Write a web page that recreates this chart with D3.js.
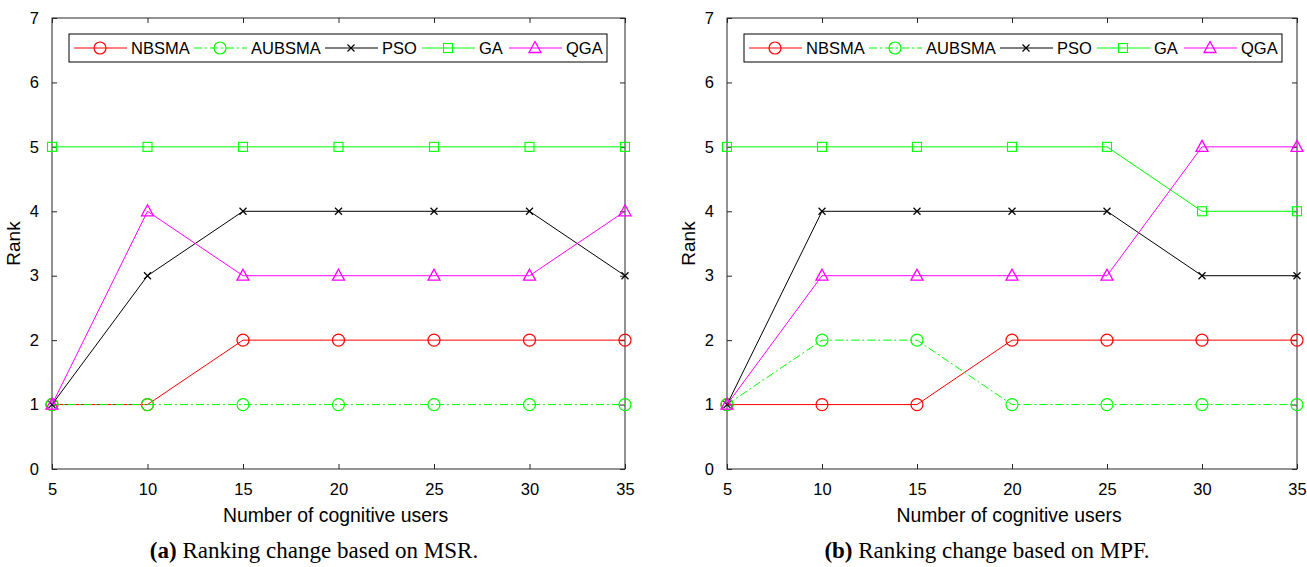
<!DOCTYPE html>
<html>
<head>
<meta charset="utf-8">
<script src="https://cdn.jsdelivr.net/npm/d3@7"></script>
<style>
  body { margin: 0; background: #fff; }
  text { font-family: "Liberation Sans", Arial, sans-serif; }
  .cap { font-family: "Liberation Serif", "Times New Roman", serif; }
</style>
</head>
<body>
<svg id="chart" width="1307" height="567"></svg>
<script>
var users = [5, 10, 15, 20, 25, 30, 35];
var rankTicks = [0, 1, 2, 3, 4, 5, 6, 7];
var seriesNames = ["NBSMA", "AUBSMA", "PSO", "GA", "QGA"];
var seriesColors = ["#ff0000", "#00ff00", "#000000", "#00ff00", "#ff00ff"];
var seriesDash = ["", "8,3,2,3", "", "", ""];
var seriesMarkers = ["circle", "circle", "cross", "square", "triangle"];

// (a) MSR
var msrNBSMA = [1, 1, 2, 2, 2, 2, 2];
var msrAUBSMA = [1, 1, 1, 1, 1, 1, 1];
var msrPSO = [1, 3, 4, 4, 4, 4, 3];
var msrGA = [5, 5, 5, 5, 5, 5, 5];
var msrQGA = [1, 4, 3, 3, 3, 3, 4];

// (b) MPF
var mpfNBSMA = [1, 1, 1, 2, 2, 2, 2];
var mpfAUBSMA = [1, 2, 2, 1, 1, 1, 1];
var mpfPSO = [1, 4, 4, 4, 4, 3, 3];
var mpfGA = [5, 5, 5, 5, 5, 4, 4];
var mpfQGA = [1, 3, 3, 3, 3, 5, 5];

var panels = [
  { left: 52, pw: 573, caption: "(a)", rest: " Ranking change based on MSR.", capX: 314,
    data: [msrNBSMA, msrAUBSMA, msrPSO, msrGA, msrQGA] },
  { left: 727, pw: 570, caption: "(b)", rest: " Ranking change based on MPF.", capX: 987,
    data: [mpfNBSMA, mpfAUBSMA, mpfPSO, mpfGA, mpfQGA] }
];

var plotTop = 18, plotBottom = 469;
var svg = d3.select("#chart");
var axisColor = "#262626";

function drawMarker(g, type, x, y, color) {
  if (type == "circle") {
    g.append("circle").attr("cx", x).attr("cy", y).attr("r", 6)
      .attr("fill", "none").attr("stroke", color).attr("stroke-width", 1.2);
  } else if (type == "square") {
    g.append("rect").attr("x", x - 4.5).attr("y", y - 4.5).attr("width", 9).attr("height", 9)
      .attr("fill", "none").attr("stroke", color).attr("stroke-width", 1.1);
  } else if (type == "triangle") {
    g.append("path").attr("d", "M" + x + "," + (y - 6.5) + "L" + (x + 6) + "," + (y + 4.5) + "L" + (x - 6) + "," + (y + 4.5) + "Z")
      .attr("fill", "none").attr("stroke", color).attr("stroke-width", 1.3);
  } else {
    g.append("path").attr("d", "M" + (x - 3.5) + "," + (y - 3.5) + "L" + (x + 3.5) + "," + (y + 3.5) + "M" + (x + 3.5) + "," + (y - 3.5) + "L" + (x - 3.5) + "," + (y + 3.5))
      .attr("stroke", color).attr("stroke-width", 1.2);
  }
}

panels.forEach(function(p) {
  var pw = p.pw;
  var x = d3.scaleLinear().domain([5, 35]).range([p.left, p.left + pw]);
  var y = d3.scaleLinear().domain([0, 7]).range([plotBottom, plotTop]);
  var g = svg.append("g");

  g.append("rect").attr("x", p.left).attr("y", plotTop).attr("width", pw).attr("height", plotBottom - plotTop)
    .attr("fill", "none").attr("stroke", axisColor).attr("stroke-width", 1);

  var xb = g.append("g").attr("transform", "translate(0," + plotBottom + ")")
    .call(d3.axisBottom(x).tickValues(users).tickSize(-5).tickPadding(14));
  var xt = g.append("g").attr("transform", "translate(0," + plotTop + ")")
    .call(d3.axisTop(x).tickValues(users).tickSize(-5).tickFormat(""));
  var yl = g.append("g").attr("transform", "translate(" + p.left + ",0)")
    .call(d3.axisLeft(y).tickValues(rankTicks).tickFormat(d3.format("d")).tickSize(-5).tickPadding(13));
  var yr = g.append("g").attr("transform", "translate(" + (p.left + pw) + ",0)")
    .call(d3.axisRight(y).tickValues(rankTicks).tickSize(-5).tickFormat(""));
  [xb, xt, yl, yr].forEach(function(a) {
    a.select(".domain").remove();
    a.selectAll("line").attr("stroke", axisColor);
    a.selectAll("text").attr("font-size", 16.5).attr("fill", "#000")
      .style("font-family", "Liberation Sans, Arial, sans-serif");
  });

  var line = d3.line().x(function(d, i) { return x(users[i]); }).y(function(d) { return y(d); });

  p.data.forEach(function(vals, k) {
    g.append("path").datum(vals).attr("d", line).attr("fill", "none")
      .attr("stroke", seriesColors[k]).attr("stroke-width", 1)
      .attr("stroke-dasharray", seriesDash[k]);
    vals.forEach(function(v, i) {
      drawMarker(g, seriesMarkers[k], x(users[i]), y(v), seriesColors[k]);
    });
  });

  // legend
  var lx = p.left + 17, ly = 34;
  var lg = g.append("g");
  lg.append("rect").attr("x", lx).attr("y", ly).attr("width", 538).attr("height", 28)
    .attr("fill", "#fff").attr("stroke", "#000").attr("stroke-width", 1);
  var offs = [5, 125, 256, 353, 440];
  seriesNames.forEach(function(name, k) {
    var sx = lx + offs[k], cy = ly + 14;
    lg.append("line").attr("x1", sx).attr("x2", sx + 53).attr("y1", cy).attr("y2", cy)
      .attr("stroke", seriesColors[k]).attr("stroke-width", 1)
      .attr("stroke-dasharray", seriesDash[k]);
    drawMarker(lg, seriesMarkers[k], sx + 26, cy, seriesColors[k]);
    lg.append("text").attr("x", sx + 57).attr("y", cy + 6).attr("font-size", 16.5).text(name);
  });

  g.append("text").attr("x", p.left + pw / 2 - 3).attr("y", 522).attr("text-anchor", "middle")
    .attr("font-size", 19.4).text("Number of cognitive users");
  g.append("text").attr("transform", "translate(" + (p.left - 32) + "," + ((plotTop + plotBottom) / 2) + ") rotate(-90)")
    .attr("text-anchor", "middle").attr("font-size", 19).text("Rank");

  var cap = g.append("text").attr("class", "cap").attr("x", p.capX).attr("y", 558)
    .attr("text-anchor", "middle").attr("font-size", 23);
  cap.append("tspan").attr("font-weight", "bold").text(p.caption);
  cap.append("tspan").text(p.rest);
});
</script>
</body>
</html>
